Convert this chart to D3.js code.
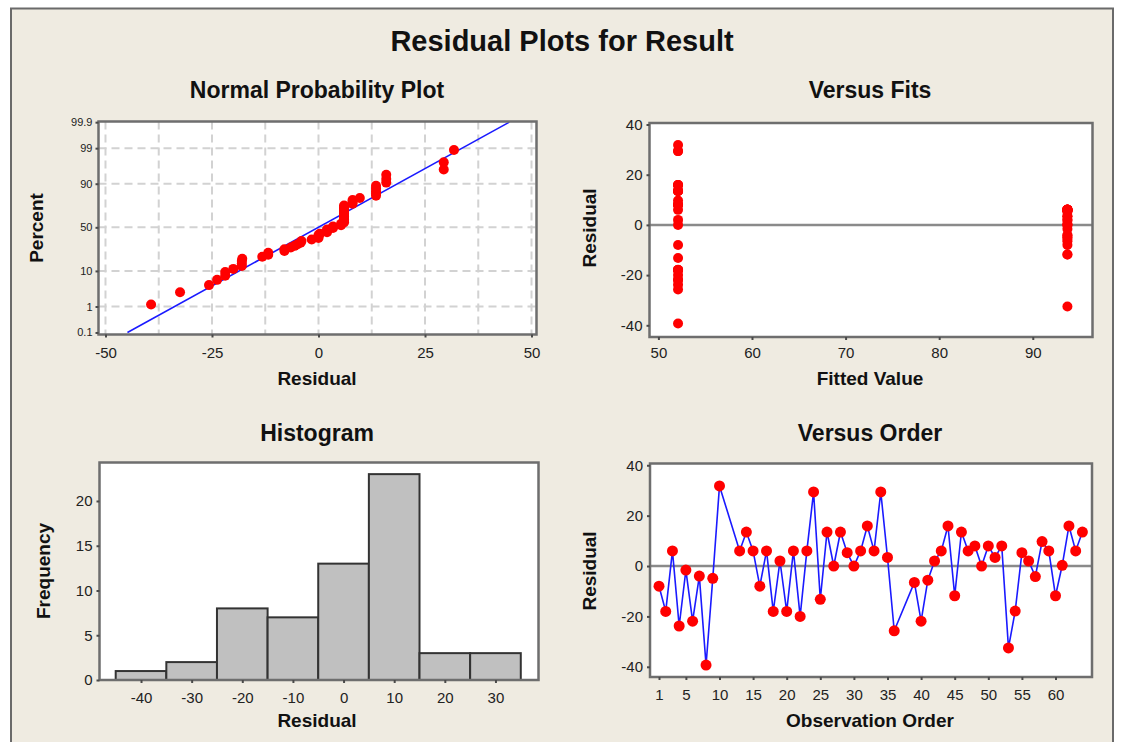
<!DOCTYPE html>
<html><head><meta charset="utf-8">
<script src="https://cdn.jsdelivr.net/npm/d3@7"></script>
<style>body{margin:0;background:#fff}</style>
</head><body><svg id="c" width="1121" height="742"></svg>
<script>
// ---------------- data ----------------
const observations = [1,2,3,4,5,6,7,8,9,10,13,14,15,16,17,18,19,20,21,22,23,24,25,26,27,28,29,30,31,32,33,34,35,36,
  39,40,41,42,43,44,45,46,47,48,49,50,51,52,53,54,55,56,57,58,59,60,61,62,63,64];
const residuals = [-8,-18,6,-23.8,-1.6,-21.9,-4,-39.3,-4.9,31.8,6,13.5,6,-8,6,-18,2,-18,6,-20,6,29.4,-13.2,13.5,0,13.5,5.3,0,6,15.9,6,29.4,3.4,-25.7,
  -6.5,-21.9,-5.6,2,6,15.9,-11.8,13.5,6,8,0,8,3.4,8,-32.5,-17.9,5.3,2,-4.2,9.7,6,-11.8,0.3,15.9,6,13.5];
const fittedValues = [52.1,52.1,93.7,52.1,93.7,52.1,93.7,52.1,93.7,52.1,93.7,52.1,93.7,93.7,93.7,52.1,52.1,52.1,93.7,52.1,93.7,52.1,52.1,52.1,52.1,52.1,93.7,93.7,93.7,52.1,93.7,52.1,93.7,52.1,
  93.7,52.1,93.7,93.7,93.7,52.1,93.7,52.1,93.7,52.1,93.7,52.1,93.7,52.1,93.7,52.1,93.7,93.7,93.7,52.1,93.7,93.7,93.7,52.1,52.1,52.1];
const histEdges = [-45,-35,-25,-15,-5,5,15,25,35];
const ppXTicks = [-50,-25,0,25,50];
const ppGridX = [-50,-37.5,-25,-12.5,0,12.5,25,37.5,50];
const ppPercentTicks = [0.1,1,10,50,90,99,99.9];
const ppPercentGrid = [1,10,50,90,99];
const vfXTicks = [50,60,70,80,90];
const residTicks = [-40,-20,0,20,40];
const histXTicks = [-40,-30,-20,-10,0,10,20,30];
const histYTicks = [0,5,10,15,20];
const voXTicks = [1,5,10,15,20,25,30,35,40,45,50,55,60];

// ---------------- helpers ----------------
const FONT = '"Liberation Sans", Arial, Helvetica, sans-serif';
const svg = d3.select('#c');
function normInv(p){
  const a=[-3.969683028665376e+01,2.209460984245205e+02,-2.759285104469687e+02,1.383577518672690e+02,-3.066479806614716e+01,2.506628277459239e+00];
  const b=[-5.447609879822406e+01,1.615858368580409e+02,-1.556989798598866e+02,6.680131188771972e+01,-1.328068155288572e+01];
  const c=[-7.784894002430293e-03,-3.223964580411365e-01,-2.400758277161838e+00,-2.549732539343734e+00,4.374664141464968e+00,2.938163982698783e+00];
  const d=[7.784695709041462e-03,3.224671290700398e-01,2.445134137142996e+00,3.754408661907416e+00];
  const pl=0.02425, ph=1-pl; let q,r;
  if(p<pl){q=Math.sqrt(-2*Math.log(p));return (((((c[0]*q+c[1])*q+c[2])*q+c[3])*q+c[4])*q+c[5])/((((d[0]*q+d[1])*q+d[2])*q+d[3])*q+1);}
  if(p<=ph){q=p-0.5;r=q*q;return (((((a[0]*r+a[1])*r+a[2])*r+a[3])*r+a[4])*r+a[5])*q/(((((b[0]*r+b[1])*r+b[2])*r+b[3])*r+b[4])*r+1);}
  q=Math.sqrt(-2*Math.log(1-p));return -(((((c[0]*q+c[1])*q+c[2])*q+c[3])*q+c[4])*q+c[5])/((((d[0]*q+d[1])*q+d[2])*q+d[3])*q+1);
}
function styleAxis(g, fs){
  g.attr('font-family', FONT);
  g.select('.domain').remove();
  g.selectAll('.tick line').attr('stroke','#4a4a4a').attr('stroke-width',2);
  g.selectAll('.tick text').attr('fill','#222').attr('font-size',fs);
}
function plotBg(b){
  svg.append('rect').attr('x',b.x0).attr('y',b.y0).attr('width',b.x1-b.x0).attr('height',b.y1-b.y0).attr('fill','#fff');
}
function plotFrame(b){
  svg.append('rect').attr('x',b.x0).attr('y',b.y0).attr('width',b.x1-b.x0).attr('height',b.y1-b.y0)
    .attr('fill','none').attr('stroke','#6e6e6e').attr('stroke-width',2.5);
}
function clip(id,b){
  svg.append('clipPath').attr('id',id).append('rect').attr('x',b.x0).attr('y',b.y0).attr('width',b.x1-b.x0).attr('height',b.y1-b.y0);
}
function text(x,y,s,fs,bold,rot){
  const t = svg.append('text').attr('font-family',FONT).attr('font-size',fs).attr('font-weight',bold?'bold':'normal')
    .attr('fill','#111').attr('text-anchor','middle').text(s);
  if(rot) t.attr('transform',`translate(${x},${y}) rotate(-90)`); else t.attr('x',x).attr('y',y);
  return t;
}
const fmt = d => String(d);

// ---------------- background ----------------
svg.append('rect').attr('width',1121).attr('height',742).attr('fill','#fff');
svg.append('rect').attr('x',11).attr('y',8.5).attr('width',1102).attr('height',760)
  .attr('fill','#efebe1').attr('stroke','#6a6a6a').attr('stroke-width',2);

text(562,51,'Residual Plots for Result',29,true);

// ---------------- Normal probability plot ----------------
const pp = {x0:98.5,x1:536.5,y0:121.5,y1:334.5};
const ppX = d3.scaleLinear().domain([-51.64,51.17]).range([pp.x0,pp.x1]);
const ppY = d3.scaleLinear().domain([-3.15,3.11]).range([pp.y1,pp.y0]);
plotBg(pp); clip('cpp',pp);
const gridG = svg.append('g').attr('stroke','#d2d2d2').attr('stroke-width',2).attr('stroke-dasharray','8,5');
gridG.selectAll('line.v').data(ppGridX).join('line').attr('x1',d=>ppX(d)).attr('x2',d=>ppX(d)).attr('y1',pp.y0).attr('y2',pp.y1);
gridG.selectAll('line.h').data(ppPercentGrid).join('line').attr('x1',pp.x0).attr('x2',pp.x1)
  .attr('y1',d=>ppY(normInv(d/100))).attr('y2',d=>ppY(normInv(d/100)));
const n = residuals.length;
const mean = d3.mean(residuals), sd = d3.deviation(residuals);
const sorted = residuals.slice().sort((a,b)=>a-b);
const ppPts = sorted.map((r,i)=>({r, z: normInv((i+1-0.3)/(n+0.4))}));
const zLo = normInv(0.001), zHi = normInv(0.999);
svg.append('line').attr('clip-path','url(#cpp)')
  .attr('x1',ppX(mean+zLo*sd)).attr('y1',ppY(zLo)).attr('x2',ppX(mean+zHi*sd)).attr('y2',ppY(zHi))
  .attr('stroke','#1a1aff').attr('stroke-width',1.6);
svg.append('g').selectAll('circle').data(ppPts).join('circle')
  .attr('cx',d=>ppX(d.r)).attr('cy',d=>ppY(d.z)).attr('r',5).attr('fill','#ff0000');
plotFrame(pp);
svg.append('g').attr('transform',`translate(0,${pp.y1})`)
  .call(d3.axisBottom(ppX).tickValues(ppXTicks).tickFormat(fmt).tickSize(3).tickPadding(10)).call(g=>styleAxis(g,15));
svg.append('g').attr('transform',`translate(${pp.x0},0)`)
  .call(d3.axisLeft(ppY).tickValues(ppPercentTicks.map(p=>normInv(p/100))).tickFormat((d,i)=>String(ppPercentTicks[i])).tickSize(3).tickPadding(3))
  .call(g=>styleAxis(g,11));
text(317,98,'Normal Probability Plot',23,true);
text(317,385,'Residual',19,true);
text(43,228,'Percent',19,true,true);

// ---------------- Versus fits ----------------
const vf = {x0:649.5,x1:1092.5,y0:123,y1:337};
const vfX = d3.scaleLinear().domain([49.05,96.38]).range([vf.x0,vf.x1]);
const vfY = d3.scaleLinear().domain([-44.66,40.6]).range([vf.y1,vf.y0]);
plotBg(vf);
svg.append('line').attr('x1',vf.x0).attr('x2',vf.x1).attr('y1',vfY(0)).attr('y2',vfY(0)).attr('stroke','#8a8a8a').attr('stroke-width',2.5);
svg.append('g').selectAll('circle').data(residuals.map((r,i)=>({r,f:fittedValues[i]}))).join('circle')
  .attr('cx',d=>vfX(d.f)).attr('cy',d=>vfY(d.r)).attr('r',5).attr('fill','#ff0000');
plotFrame(vf);
svg.append('g').attr('transform',`translate(0,${vf.y1})`)
  .call(d3.axisBottom(vfX).tickValues(vfXTicks).tickFormat(fmt).tickSize(3).tickPadding(7)).call(g=>styleAxis(g,15));
svg.append('g').attr('transform',`translate(${vf.x0},0)`)
  .call(d3.axisLeft(vfY).tickValues(residTicks).tickFormat(fmt).tickSize(3).tickPadding(4)).call(g=>styleAxis(g,15));
text(870,98,'Versus Fits',23,true);
text(870,385,'Fitted Value',19,true);
text(596,228,'Residual',19,true,true);

// ---------------- Histogram ----------------
const hb = {x0:99.5,x1:538.5,y0:462.5,y1:680};
const hX = d3.scaleLinear().domain([-48.2,38.5]).range([hb.x0,hb.x1]);
const hY = d3.scaleLinear().domain([0,24.3]).range([hb.y1,hb.y0]);
const bins = d3.bin().domain([histEdges[0],histEdges[histEdges.length-1]]).thresholds(histEdges.slice(1,-1))(residuals);
plotBg(hb);
svg.append('g').selectAll('rect').data(bins).join('rect')
  .attr('x',d=>hX(d.x0)).attr('width',d=>hX(d.x1)-hX(d.x0))
  .attr('y',d=>hY(d.length)).attr('height',d=>hY(0)-hY(d.length))
  .attr('fill','#c0c0c0').attr('stroke','#333').attr('stroke-width',2);
plotFrame(hb);
svg.append('g').attr('transform',`translate(0,${hb.y1})`)
  .call(d3.axisBottom(hX).tickValues(histXTicks).tickFormat(fmt).tickSize(3).tickPadding(9)).call(g=>styleAxis(g,15));
svg.append('g').attr('transform',`translate(${hb.x0},0)`)
  .call(d3.axisLeft(hY).tickValues(histYTicks).tickFormat(fmt).tickSize(3).tickPadding(4)).call(g=>styleAxis(g,15));
text(317,441,'Histogram',23,true);
text(317,727,'Residual',19,true);
text(50,571,'Frequency',19,true,true);

// ---------------- Versus order ----------------
const vo = {x0:650,x1:1092,y0:463.5,y1:677};
const voX = d3.scaleLinear().domain([-0.34,65.43]).range([vo.x0,vo.x1]);
const voY = d3.scaleLinear().domain([-44.05,40.7]).range([vo.y1,vo.y0]);
plotBg(vo);
svg.append('line').attr('x1',vo.x0).attr('x2',vo.x1).attr('y1',voY(0)).attr('y2',voY(0)).attr('stroke','#8a8a8a').attr('stroke-width',2.5);
const voData = residuals.map((r,i)=>({o:observations[i],r}));
svg.append('path').datum(voData).attr('fill','none').attr('stroke','#1a1aff').attr('stroke-width',1.6)
  .attr('d',d3.line().x(d=>voX(d.o)).y(d=>voY(d.r)));
svg.append('g').selectAll('circle').data(voData).join('circle')
  .attr('cx',d=>voX(d.o)).attr('cy',d=>voY(d.r)).attr('r',5.5).attr('fill','#ff0000');
plotFrame(vo);
svg.append('g').attr('transform',`translate(0,${vo.y1})`)
  .call(d3.axisBottom(voX).tickValues(voXTicks).tickFormat(fmt).tickSize(3).tickPadding(9)).call(g=>styleAxis(g,15));
svg.append('g').attr('transform',`translate(${vo.x0},0)`)
  .call(d3.axisLeft(voY).tickValues(residTicks).tickFormat(fmt).tickSize(3).tickPadding(4)).call(g=>styleAxis(g,15));
text(870,441,'Versus Order',23,true);
text(870,727,'Observation Order',19,true);
text(596,571,'Residual',19,true,true);
</script>
</body></html>
